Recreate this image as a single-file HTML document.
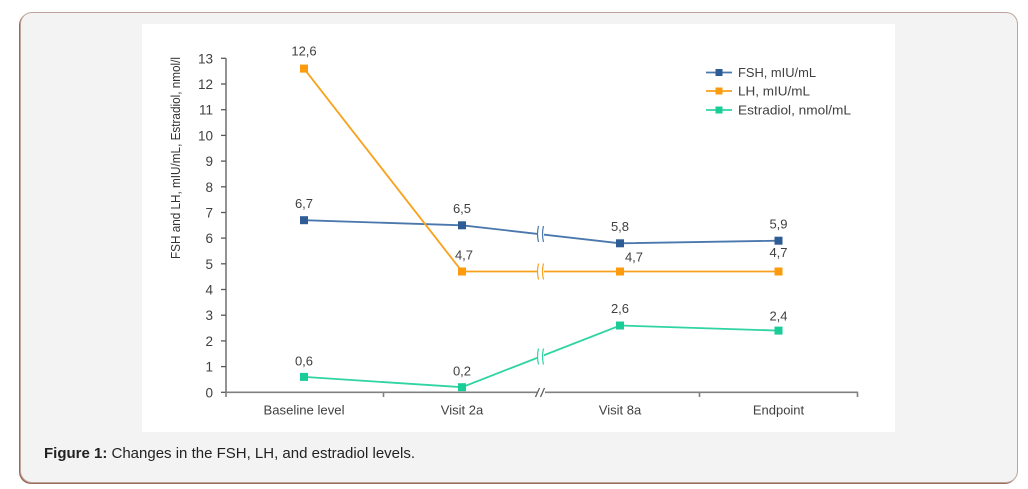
<!DOCTYPE html>
<html><head><meta charset="utf-8">
<style>
html,body{margin:0;padding:0;background:#fff;}
body{width:1028px;height:489px;position:relative;overflow:hidden;font-family:"Liberation Sans",sans-serif;}
.box{position:absolute;left:20px;top:12px;width:996px;height:469px;background:#f3f3f3;border:1px solid #bfa49c;border-radius:12px;box-shadow:-1px 1px 0 #9a6a5c;}
.cap{position:absolute;left:44px;top:445px;font-size:15px;color:#222;white-space:nowrap;}
svg{position:absolute;left:0;top:0;}
</style></head><body>
<div class="box"></div>
<svg width="1028" height="489" viewBox="0 0 1028 489" font-family="Liberation Sans, sans-serif">
<rect x="142" y="24" width="753" height="408" fill="#fff"/>
<!-- y axis -->
<g stroke="#595959" stroke-width="1.3">
<line x1="226" y1="58.3" x2="226" y2="392.3"/>
<line x1="221" y1="58.3" x2="226" y2="58.3"/>
<line x1="221" y1="84" x2="226" y2="84"/>
<line x1="221" y1="109.7" x2="226" y2="109.7"/>
<line x1="221" y1="135.4" x2="226" y2="135.4"/>
<line x1="221" y1="161.1" x2="226" y2="161.1"/>
<line x1="221" y1="186.8" x2="226" y2="186.8"/>
<line x1="221" y1="212.5" x2="226" y2="212.5"/>
<line x1="221" y1="238.1" x2="226" y2="238.1"/>
<line x1="221" y1="263.8" x2="226" y2="263.8"/>
<line x1="221" y1="289.5" x2="226" y2="289.5"/>
<line x1="221" y1="315.2" x2="226" y2="315.2"/>
<line x1="221" y1="340.9" x2="226" y2="340.9"/>
<line x1="221" y1="366.6" x2="226" y2="366.6"/>
<line x1="221" y1="392.3" x2="226" y2="392.3"/>
</g>
<g stroke="#808080" stroke-width="1.6">
<line x1="226" y1="392.3" x2="858" y2="392.3"/>
<line x1="226" y1="392.3" x2="226" y2="397"/>
<line x1="383.5" y1="392.3" x2="383.5" y2="397"/>
<line x1="699.5" y1="392.3" x2="699.5" y2="397"/>
<line x1="857.5" y1="392.3" x2="857.5" y2="397"/>
</g>
<!-- x axis break -->
<rect x="537" y="388" width="8" height="9" fill="#fff"/>
<g stroke="#595959" stroke-width="1.2">
<line x1="535.5" y1="397" x2="539.5" y2="388"/>
<line x1="540.5" y1="397" x2="544.5" y2="388"/>
</g>
<g font-size="13.5" fill="#404040" text-anchor="end">
<text x="213" y="63.3">13</text>
<text x="213" y="89">12</text>
<text x="213" y="114.7">11</text>
<text x="213" y="140.4">10</text>
<text x="213" y="166.1">9</text>
<text x="213" y="191.8">8</text>
<text x="213" y="217.5">7</text>
<text x="213" y="243.1">6</text>
<text x="213" y="268.8">5</text>
<text x="213" y="294.5">4</text>
<text x="213" y="320.2">3</text>
<text x="213" y="345.9">2</text>
<text x="213" y="371.6">1</text>
<text x="213" y="397.3">0</text>
</g>
<text transform="translate(180,158) rotate(-90)" text-anchor="middle" font-size="13" fill="#333" textLength="202" lengthAdjust="spacingAndGlyphs">FSH and LH, mIU/mL,  Estradiol, nmol/l</text>
<g font-size="13" fill="#404040" text-anchor="middle">
<text x="304" y="414.5" textLength="81" lengthAdjust="spacingAndGlyphs">Baseline level</text>
<text x="462" y="414.5">Visit 2a</text>
<text x="620" y="414.5">Visit 8a</text>
<text x="778.5" y="414.5">Endpoint</text>
</g>
<!-- series -->
<polyline points="304,220.2 462,225.3 620,243.3 778.5,240.7" fill="none" stroke="#4a78ad" stroke-width="1.8"/>
<polyline points="304,68.6 462,271.5 620,271.5 778.5,271.5" fill="none" stroke="#f9a11b" stroke-width="1.8"/>
<polyline points="304,376.9 462,387.2 620,325.5 778.5,330.6" fill="none" stroke="#2fd4a2" stroke-width="1.8"/>
<!-- breaks on series -->
<g fill="#fff" stroke="none">
<rect x="538" y="224" width="6" height="20"/>
<rect x="538" y="262" width="6" height="20"/>
<rect x="538" y="346" width="6" height="20"/>
</g>
<g fill="none" stroke-width="1.2">
<path d="M538.5,226 q-2,8 0,16 M543.5,226 q-2,8 0,16" stroke="#4a78ad"/>
<path d="M538.5,263.5 q-2,8 0,16 M543.5,263.5 q-2,8 0,16" stroke="#f9a11b"/>
<path d="M538.5,348.5 q-2,8 0,16 M543.5,348.5 q-2,8 0,16" stroke="#2fd4a2"/>
</g>
<g fill="#2d5d94">
<rect x="300" y="216.2" width="8" height="8"/>
<rect x="458" y="221.3" width="8" height="8"/>
<rect x="616" y="239.3" width="8" height="8"/>
<rect x="774.5" y="236.7" width="8" height="8"/>
</g>
<g fill="#fb9b0d">
<rect x="300" y="64.6" width="8" height="8"/>
<rect x="458" y="267.5" width="8" height="8"/>
<rect x="616" y="267.5" width="8" height="8"/>
<rect x="774.5" y="267.5" width="8" height="8"/>
</g>
<g fill="#1acd98">
<rect x="300" y="372.9" width="8" height="8"/>
<rect x="458" y="383.2" width="8" height="8"/>
<rect x="616" y="321.5" width="8" height="8"/>
<rect x="774.5" y="326.6" width="8" height="8"/>
</g>
<g font-size="13" fill="#404040" text-anchor="middle" stroke="#fff" stroke-width="3" paint-order="stroke">
<text x="304" y="55.5">12,6</text>
<text x="304" y="208">6,7</text>
<text x="462" y="213">6,5</text>
<text x="464" y="259.5">4,7</text>
<text x="620" y="231">5,8</text>
<text x="634" y="261.5">4,7</text>
<text x="778.5" y="228.5">5,9</text>
<text x="778.5" y="257">4,7</text>
<text x="620" y="312.8">2,6</text>
<text x="778.5" y="320.5">2,4</text>
<text x="304" y="365.5">0,6</text>
<text x="462" y="375.5">0,2</text>
</g>
<!-- legend -->
<line x1="706" y1="72.5" x2="732" y2="72.5" stroke="#4a78ad" stroke-width="1.8"/>
<rect x="715.5" y="69" width="7" height="7" fill="#2d5d94"/>
<line x1="706" y1="91" x2="732" y2="91" stroke="#f9a11b" stroke-width="1.8"/>
<rect x="715.5" y="87.5" width="7" height="7" fill="#fb9b0d"/>
<line x1="706" y1="110" x2="732" y2="110" stroke="#2fd4a2" stroke-width="1.8"/>
<rect x="715.5" y="106.5" width="7" height="7" fill="#1acd98"/>
<g font-size="13" fill="#404040">
<text x="738" y="77" textLength="78" lengthAdjust="spacingAndGlyphs">FSH, mIU/mL</text>
<text x="738" y="95.5" textLength="72" lengthAdjust="spacingAndGlyphs">LH, mIU/mL</text>
<text x="738" y="114.5" textLength="113" lengthAdjust="spacingAndGlyphs">Estradiol, nmol/mL</text>
</g>
</svg>
<div class="cap"><b>Figure 1:</b> Changes in the FSH, LH, and estradiol levels.</div>
</body></html>
